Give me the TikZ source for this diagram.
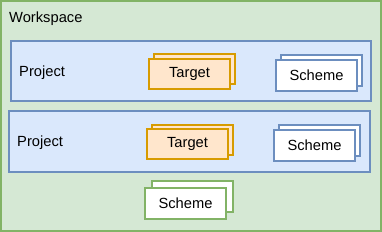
\documentclass[tikz,border=0pt]{standalone}
\usepackage{fontspec}
\setmainfont{Liberation Sans}
\definecolor{gfill}{HTML}{D5E8D4}
\definecolor{gline}{HTML}{82B366}
\definecolor{bfill}{HTML}{DAE8FC}
\definecolor{bline}{HTML}{6C8EBF}
\definecolor{ofill}{HTML}{FFE6CC}
\definecolor{oline}{HTML}{D79B00}
\tikzset{
  txt/.style={font=\fontsize{14.7}{17}\selectfont},
  box/.style={draw, line width=1.3pt, inner sep=0pt, minimum width=#1, txt},
  wsbox/.style={box=380pt, fill=gfill, draw=gline, minimum height=230pt},
  projbox/.style={box=360pt, fill=bfill, draw=bline, minimum height=60pt},
  tgt/.style={box=81pt, fill=ofill, draw=oline, minimum height=30pt},
  sch/.style={box=81pt, fill=white, draw=bline, minimum height=31pt},
  gsch/.style={box=81pt, fill=white, draw=gline, minimum height=31pt},
  lbl/.style={anchor=base west, inner sep=0pt, txt}
}
\begin{document}
\begin{tikzpicture}[x=1pt,y=-1pt]
\useasboundingbox (0,0) rectangle (382,232);
\node[wsbox] (ws) at (191,116) {};
\node[lbl] (wslabel) at (9,22.7) {Workspace};
% Project 1
\node[projbox] (p1) at (191,71) {};
\node[lbl] (p1label) at (19,76.5) {Project};
\node[tgt] (t1back) at (194.5,69) {};
\node[tgt] (t1) at (189.5,74) {Target};
\node[sch] (s1back) at (321.5,70.5) {};
\node[sch] (s1) at (316.5,75.5) {Scheme};
% Project 2
\node[projbox, minimum width=361pt, minimum height=61pt] (p2) at (189.5,141.5) {};
\node[lbl] (p2label) at (17,146.5) {Project};
\node[tgt] (t2back) at (192.5,140) {};
\node[tgt] (t2) at (187.5,144) {Target};
\node[sch] (s2back) at (319.5,140.5) {};
\node[sch] (s2) at (314.5,145.5) {Scheme};
% Workspace scheme
\node[gsch] (s3back) at (192.5,196.5) {};
\node[gsch] (s3) at (185.5,203.5) {Scheme};
\end{tikzpicture}
\end{document}
